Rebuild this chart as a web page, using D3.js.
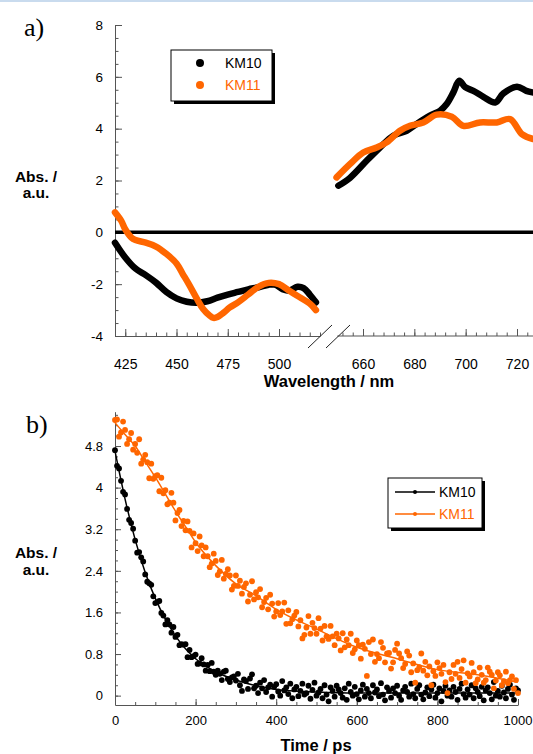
<!DOCTYPE html>
<html><head><meta charset="utf-8">
<script src="https://cdn.jsdelivr.net/npm/d3@7"></script>
<style>
html,body{margin:0;padding:0;background:#fff;}
svg{display:block;font-family:"Liberation Sans",Arial,Helvetica,sans-serif;}
</style></head>
<body>
<svg id="chart" width="533" height="754"></svg>
<script>
// ---------- Panel a data (wavelength nm, Abs) ----------
const seriesNames = ["KM10", "KM11"];
const colors = ["#000000", "#ff6600"];
const km10LeftNm  = [420,425,430,435,440,445,450,455,460,465,470,475,480,485,490,495,498,502,505,509,512,515,518];
const km10LeftAbs = [-0.40,-0.97,-1.40,-1.65,-1.94,-2.30,-2.55,-2.68,-2.72,-2.66,-2.52,-2.40,-2.30,-2.20,-2.12,-2.02,-2.02,-2.20,-2.25,-2.10,-2.15,-2.40,-2.70];
const km11LeftNm  = [420,423,425,428,430,435,440,445,450,453,456,460,463,466,468,470,473,476,480,485,490,495,500,505,510,515,518];
const km11LeftAbs = [0.77,0.45,0.12,-0.20,-0.30,-0.40,-0.55,-0.83,-1.20,-1.60,-2.00,-2.57,-2.96,-3.20,-3.30,-3.27,-3.10,-2.90,-2.70,-2.40,-2.10,-1.95,-2.00,-2.25,-2.50,-2.75,-3.00];
const km10RightNm  = [650.4,654.9,661.4,666.6,671.8,677.0,680.9,686.1,690.0,692.6,695.2,697.5,699.8,703.0,706.9,711.5,714.7,720.0,723.6,726.0];
const km10RightAbs = [1.80,2.10,2.76,3.27,3.73,3.92,4.18,4.50,4.69,4.95,5.40,5.85,5.60,5.46,5.23,5.01,5.36,5.62,5.46,5.40];
const km11RightNm  = [649.7,654.9,660.1,665.3,669.2,674.4,678.3,683.5,688.7,694.6,699.1,705.6,712.1,717.3,721.9,726.3];
const km11RightAbs = [2.12,2.63,3.08,3.27,3.47,3.92,4.11,4.24,4.54,4.46,4.11,4.24,4.24,4.37,3.79,3.60];
const aYTicks = [-4,-2,0,2,4,6,8];
const aXTicksLeft = [425,450,475,500];
const aXTicksRight = [660,680,700,720];

// ---------- Panel b data (time ps, Abs) ----------
const times = [0,5,10,15,20,25,30,35,40,45,50,55,60,65,70,75,80,85,90,95,100,105,110,115,120,125,130,135,140,145,150,155,160,165,170,175,180,185,190,195,200,205,210,215,220,225,230,235,240,245,250,255,260,265,270,275,280,285,290,295,300,305,310,315,320,325,330,335,340,345,350,355,360,365,370,375,380,385,390,395,400,405,410,415,420,425,430,435,440,445,450,455,460,465,470,475,480,485,490,495,500,505,510,515,520,525,530,535,540,545,550,555,560,565,570,575,580,585,590,595,600,605,610,615,620,625,630,635,640,645,650,655,660,665,670,675,680,685,690,695,700,705,710,715,720,725,730,735,740,745,750,755,760,765,770,775,780,785,790,795,800,805,810,815,820,825,830,835,840,845,850,855,860,865,870,875,880,885,890,895,900,905,910,915,920,925,930,935,940,945,950,955,960,965,970,975,980,985,990,995,1000];
const km10Decay = [4.72,4.42,4.37,4.13,3.92,3.87,3.59,3.38,3.32,3.21,
2.98,2.75,2.76,2.66,2.58,2.33,2.19,2.16,2.13,1.91,
1.78,1.80,1.82,1.59,1.54,1.37,1.45,1.37,1.21,1.32,
1.13,1.17,0.97,0.99,0.98,0.99,0.74,0.88,0.74,0.76,
0.79,0.61,0.62,0.72,0.60,0.48,0.59,0.47,0.63,0.46,
0.40,0.48,0.42,0.30,0.46,0.48,0.32,0.26,0.35,0.37,
0.29,0.42,0.20,0.09,0.31,0.28,0.13,0.33,0.41,0.14,
0.19,0.05,0.25,0.14,0.30,0.07,0.16,0.21,-0.02,0.17,
0.22,0.08,0.00,0.28,0.10,0.16,0.03,0.23,-0.05,0.12,
0.17,-0.01,0.09,0.23,0.02,0.05,0.19,-0.06,0.11,0.25,
0.00,0.06,0.13,-0.05,0.20,0.02,-0.11,0.16,0.09,-0.02,
0.19,0.12,0.05,-0.04,0.14,-0.08,0.23,0.07,0.00,0.17,
0.03,-0.07,0.10,0.21,-0.02,0.13,0.05,-0.05,0.20,0.06,
0.12,-0.01,0.24,0.02,-0.09,0.16,0.09,-0.04,0.14,0.05,
0.19,0.00,-0.08,0.10,0.17,0.07,-0.02,0.23,0.03,-0.05,
0.13,0.20,0.02,-0.07,0.06,0.16,-0.01,0.12,0.21,-0.04,
0.05,0.14,-0.11,0.09,0.19,0.00,0.10,-0.02,0.17,0.07,
-0.08,0.13,0.23,0.03,-0.04,0.12,0.02,0.20,-0.05,0.14,
0.07,-0.01,0.17,-0.09,0.10,0.16,0.05,-0.07,0.26,0.00,
0.09,-0.02,0.19,0.06,-0.05,0.13,0.21,0.02,-0.08,0.14,
0.10];
const km11Decay = [5.30,5.31,4.98,5.06,5.27,5.11,4.84,4.93,5.05,4.73,
4.84,4.67,4.93,4.46,4.54,4.63,4.49,4.18,4.46,4.17,
4.22,4.24,3.93,4.19,3.89,3.95,3.68,3.71,3.90,3.71,
3.37,3.51,3.57,3.26,3.36,3.18,3.35,3.17,2.85,3.12,
2.93,2.78,3.06,2.89,2.68,2.85,2.68,2.47,2.54,2.73,
2.59,2.32,2.39,2.61,2.25,2.34,2.43,2.31,2.04,2.11,
2.31,2.11,2.21,1.96,2.09,2.16,1.81,1.94,2.20,1.85,
1.99,1.89,2.05,1.70,1.80,1.88,1.66,1.94,1.77,1.52,
1.62,1.78,1.55,1.62,1.79,1.38,1.64,1.39,1.47,1.54,
1.61,1.33,1.45,1.10,1.17,1.31,1.53,1.19,1.40,1.30,
1.19,1.49,1.29,1.06,1.34,1.14,1.09,1.34,1.14,0.97,
1.19,1.10,0.87,1.20,0.93,1.08,0.97,1.19,0.82,0.89,
1.06,0.97,0.71,0.98,0.90,0.38,1.03,0.80,1.08,0.65,
0.80,0.72,1.03,0.92,0.64,0.81,0.82,0.52,0.64,0.88,
1.00,0.81,0.72,0.53,0.61,0.85,0.77,0.45,0.62,0.25,
0.49,0.55,0.81,0.48,0.65,0.39,0.56,0.20,0.47,0.38,
0.64,0.53,0.42,0.59,0.26,0.05,0.45,0.32,0.59,0.42,
0.65,0.34,0.51,0.68,0.25,0.43,0.37,0.63,0.45,0.24,
0.31,0.54,0.40,0.25,0.30,0.54,0.46,0.40,0.14,0.29,
0.45,0.39,0.20,0.28,0.46,0.24,0.30,0.37,0.13,0.30,
0.05];
const fitTimes = [0,25,50,75,100,125,150,175,200,250,300,350,400,500,600,700,800,900,1000];
const km10Fit = [4.70,3.78,3.00,2.37,1.87,1.47,1.15,0.90,0.71,0.46,0.30,0.19,0.12,0.07,0.05,0.05,0.05,0.05,0.05];
const km11Fit = [5.25,5.02,4.80,4.50,4.20,3.875,3.55,3.25,2.95,2.50,2.15,1.92,1.66,1.28,0.93,0.71,0.50,0.40,0.26];
const bYTicks = [0,0.8,1.6,2.4,3.2,4,4.8];
const bXTicks = [0,200,400,600,800,1000];

const svg = d3.select("#chart");
const AX = "#555";

svg.append("rect").attr("x",0).attr("y",0).attr("width",533).attr("height",2).attr("fill","#c9dbee");

function styleAxis(g){
  g.selectAll(".domain").attr("stroke",AX).attr("stroke-width",1);
  g.selectAll(".tick line").attr("stroke",AX).attr("stroke-width",1);
  g.selectAll(".tick text").attr("fill","#000").attr("font-family","Liberation Sans, Arial, sans-serif");
}
const plain = d => String(d);

// ================= Panel a =================
const ya = d3.scaleLinear().domain([-4,8]).range([336,25]);
const xaL = d3.scaleLinear().domain([420,520]).range([115,320]);
const xaR = d3.scaleLinear().domain([660,720]).range([363,517]);

const gyA = svg.append("g").attr("transform","translate(115,0)")
  .call(d3.axisLeft(ya).tickValues(aYTicks).tickFormat(plain).tickSizeInner(-7).tickSizeOuter(0).tickPadding(12));
gyA.selectAll(".tick text").attr("font-size",13.5);
styleAxis(gyA);
const gyAm = svg.append("g").attr("transform","translate(115,0)")
  .call(d3.axisLeft(ya).tickValues(d3.range(-4,8.01,0.5)).tickFormat("").tickSizeInner(-3.5).tickSizeOuter(0));
gyAm.select(".domain").remove(); styleAxis(gyAm);

const gxL = svg.append("g").attr("transform","translate(0,336)")
  .call(d3.axisBottom(xaL).tickValues(aXTicksLeft).tickFormat(plain).tickSizeInner(-7).tickSizeOuter(0).tickPadding(23));
gxL.selectAll(".tick text").attr("font-size",14);
styleAxis(gxL);
const gxLm = svg.append("g").attr("transform","translate(0,336)")
  .call(d3.axisBottom(xaL).tickValues(d3.range(420,521,5)).tickFormat("").tickSizeInner(-3.5).tickSizeOuter(0));
gxLm.select(".domain").remove(); styleAxis(gxLm);

const gxR = svg.append("g").attr("transform","translate(0,336)")
  .call(d3.axisBottom(xaR).tickValues(aXTicksRight).tickFormat(plain).tickSizeInner(-7).tickSizeOuter(0).tickPadding(23));
gxR.select(".domain").remove();
gxR.selectAll(".tick text").attr("font-size",14);
styleAxis(gxR);
const gxRm = svg.append("g").attr("transform","translate(0,336)")
  .call(d3.axisBottom(xaR).tickValues(d3.range(652,729,4)).tickFormat("").tickSizeInner(-3.5).tickSizeOuter(0));
gxRm.select(".domain").remove(); styleAxis(gxRm);
svg.append("line").attr("x1",xaR(650)).attr("x2",533).attr("y1",336).attr("y2",336).attr("stroke",AX);

[320,338].forEach(cx=>{
  svg.append("line").attr("x1",cx-12).attr("y1",348).attr("x2",cx+12).attr("y2",325)
    .attr("stroke","#222").attr("stroke-width",1);
});

svg.append("line").attr("x1",115).attr("x2",533).attr("y1",ya(0)).attr("y2",ya(0))
  .attr("stroke","#000").attr("stroke-width",3.5);

function drawCurve(xs,ys,xsc,col){
  const pts = xs.map((d,i)=>[d,ys[i]]);
  svg.append("path").datum(pts)
    .attr("d", d3.line().x(d=>xsc(d[0])).y(d=>ya(d[1])).curve(d3.curveCatmullRom.alpha(0.5)))
    .attr("fill","none").attr("stroke",col).attr("stroke-width",6.5)
    .attr("stroke-linecap","round").attr("stroke-linejoin","round");
}
drawCurve(km10LeftNm,km10LeftAbs,xaL,colors[0]);
drawCurve(km11LeftNm,km11LeftAbs,xaL,colors[1]);
drawCurve(km10RightNm,km10RightAbs,xaR,colors[0]);
drawCurve(km11RightNm,km11RightAbs,xaR,colors[1]);

const la = svg.append("g");
la.append("rect").attr("x",174).attr("y",53).attr("width",101).attr("height",51).attr("fill","#000");
la.append("rect").attr("x",171).attr("y",50).attr("width",101).attr("height",51).attr("fill","#fff").attr("stroke","#000").attr("stroke-width",1);
seriesNames.forEach((n,i)=>{
  la.append("circle").attr("cx",200).attr("cy",63+i*22).attr("r",4).attr("fill",colors[i]);
  la.append("text").attr("x",225).attr("y",68+i*22).attr("font-size",14).attr("fill",colors[i]).text(n);
});

svg.append("text").attr("x",24).attr("y",36).attr("font-family","Liberation Serif, Times New Roman, serif").attr("font-size",26).text("a)");
const ylA = svg.append("text").attr("font-size",15.5).attr("font-weight","bold").attr("text-anchor","middle");
ylA.append("tspan").attr("x",36).attr("y",182).text("Abs. /");
ylA.append("tspan").attr("x",36).attr("y",198).text("a.u.");
svg.append("text").attr("x",329).attr("y",387).attr("text-anchor","middle").attr("font-size",16.5).attr("font-weight","bold").text("Wavelength / nm");

// ================= Panel b =================
const yb = d3.scaleLinear().domain([-0.18,5.46]).range([705,411.7]);
const xb = d3.scaleLinear().domain([0,1000]).range([115,518]);

const gyB = svg.append("g").attr("transform","translate(115,0)")
  .call(d3.axisLeft(yb).tickValues(bYTicks).tickFormat(plain).tickSizeInner(-6).tickSizeOuter(0).tickPadding(12));
gyB.selectAll(".tick text").attr("font-size",13);
styleAxis(gyB);
const gyBm = svg.append("g").attr("transform","translate(115,0)")
  .call(d3.axisLeft(yb).tickValues(d3.range(0,5.41,0.2)).tickFormat("").tickSizeInner(-3).tickSizeOuter(0));
gyBm.select(".domain").remove(); styleAxis(gyBm);

const gxB = svg.append("g").attr("transform","translate(0,705)")
  .call(d3.axisBottom(xb).tickValues(bXTicks).tickFormat(plain).tickSizeInner(-6).tickSizeOuter(0).tickPadding(11));
gxB.selectAll(".tick text").attr("font-size",13);
gxB.selectAll(".tick text").filter(d=>d===1000).attr("text-anchor","end").attr("dx",14);
styleAxis(gxB);
const gxBm = svg.append("g").attr("transform","translate(0,705)")
  .call(d3.axisBottom(xb).tickValues(d3.range(0,1001,50)).tickFormat("").tickSizeInner(-3).tickSizeOuter(0));
gxBm.select(".domain").remove(); styleAxis(gxBm);

function drawScatter(vals,col){
  svg.append("g").selectAll("circle").data(vals).join("circle")
    .attr("cx",(d,i)=>xb(times[i])).attr("cy",d=>yb(d)).attr("r",2.9).attr("fill",col);
}
function drawFit(vals,col){
  const pts = fitTimes.map((t,i)=>[t,vals[i]]);
  svg.append("path").datum(pts)
    .attr("d", d3.line().x(d=>xb(d[0])).y(d=>yb(d[1])).curve(d3.curveMonotoneX))
    .attr("fill","none").attr("stroke",col).attr("stroke-width",1.5);
}
drawScatter(km10Decay,colors[0]);
drawFit(km10Fit,colors[0]);
drawScatter(km11Decay,colors[1]);
drawFit(km11Fit,colors[1]);

const lb = svg.append("g");
lb.append("rect").attr("x",391).attr("y",481).attr("width",94).attr("height",50).attr("fill","#000");
lb.append("rect").attr("x",388).attr("y",478).attr("width",94).attr("height",50).attr("fill","#fff").attr("stroke","#000").attr("stroke-width",1);
seriesNames.forEach((n,i)=>{
  const yy = 492+i*22;
  lb.append("line").attr("x1",395).attr("x2",435).attr("y1",yy).attr("y2",yy).attr("stroke",colors[i]).attr("stroke-width",1.5);
  lb.append("circle").attr("cx",415).attr("cy",yy).attr("r",2).attr("fill",colors[i]);
  lb.append("text").attr("x",439).attr("y",yy+5).attr("font-size",14).attr("fill",colors[i]).text(n);
});

svg.append("text").attr("x",26).attr("y",433).attr("font-family","Liberation Serif, Times New Roman, serif").attr("font-size",26).text("b)");
const ylB = svg.append("text").attr("font-size",15.5).attr("font-weight","bold").attr("text-anchor","middle");
ylB.append("tspan").attr("x",36).attr("y",558).text("Abs. /");
ylB.append("tspan").attr("x",36).attr("y",575).text("a.u.");
svg.append("text").attr("x",316).attr("y",751).attr("text-anchor","middle").attr("font-size",16.5).attr("font-weight","bold").text("Time / ps");
</script>
</body></html>
